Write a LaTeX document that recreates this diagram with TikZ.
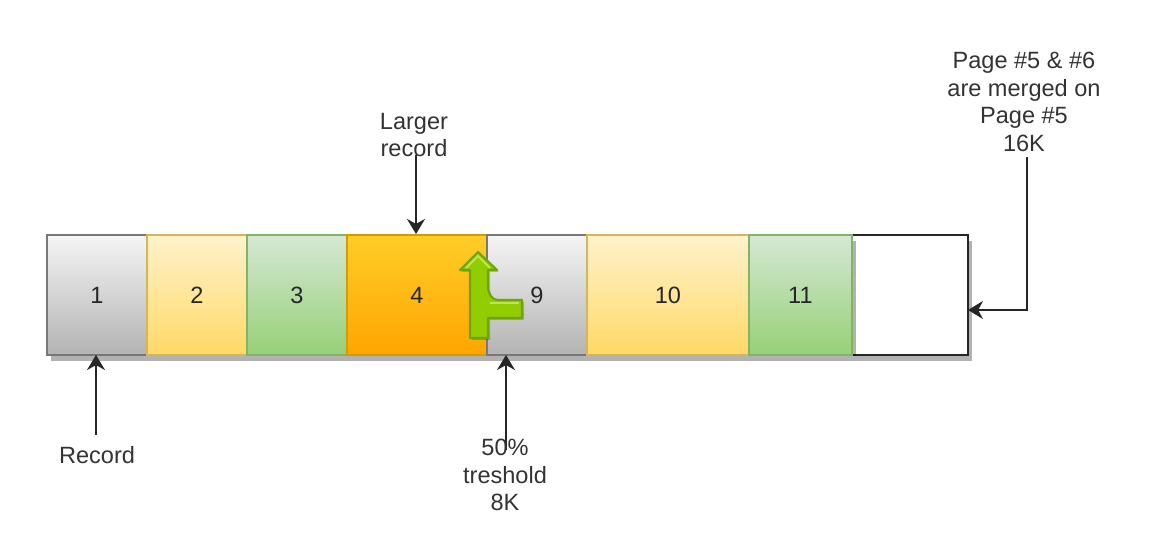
\documentclass[tikz,border=0pt]{standalone}
\usepackage{fontspec}
\setmainfont{Liberation Sans}
\usepackage{tikz}
\usetikzlibrary{arrows.meta,shadows}
\definecolor{pggray}{RGB}{120,120,120}
\definecolor{pgyellow}{RGB}{214,182,86}
\definecolor{pggreen}{RGB}{130,179,102}
\definecolor{pgorange}{RGB}{215,155,0}
\definecolor{graytop}{RGB}{245,245,245}
\definecolor{graybot}{RGB}{179,179,179}
\definecolor{yellowtop}{RGB}{255,242,204}
\definecolor{yellowbot}{RGB}{255,217,102}
\definecolor{greentop}{RGB}{213,232,212}
\definecolor{greenbot}{RGB}{151,208,119}
\definecolor{orangetop}{RGB}{255,205,40}
\definecolor{orangebot}{RGB}{255,165,0}
\definecolor{tipgreen}{RGB}{145,205,0}
\definecolor{tipedge}{RGB}{110,165,10}
\definecolor{tiplight}{RGB}{190,228,80}

\begin{document}
\begin{tikzpicture}[
  x=0.02cm, y=-0.02cm,
  font=\fontsize{13.4pt}{15.6pt}\selectfont,
  slot/.style={draw, rectangle, minimum height=2.4cm, inner sep=0pt, line width=1pt, anchor=north west,
    text=black!85, text height=9.5pt, text depth=0pt,
    drop shadow={shadow xshift=0.08cm, shadow yshift=-0.12cm, fill=black, opacity=0.3}},
  graybox/.style={slot, draw=pggray, top color=graytop, bottom color=graybot},
  yellowbox/.style={slot, draw=pgyellow, top color=yellowtop, bottom color=yellowbot},
  greenbox/.style={slot, draw=pggreen, top color=greentop, bottom color=greenbot},
  orangebox/.style={slot, draw=pgorange, top color=orangetop, bottom color=orangebot},
  emptybox/.style={slot, draw=black!85, fill=white, line width=1.1pt},
  lbl/.style={align=center, text=black!80, inner sep=0pt},
  >={Stealth[length=3mm,width=3.6mm]},
  arrline/.style={->, line width=1.1pt, black!85},
]
\useasboundingbox (0,0) rectangle (1157,543);
% page slots, the empty one goes under its neighbour's shadow
\node[emptybox, minimum width=2.32cm] (slotE) at (851,234) {};
\node[graybox, minimum width=2cm] (slotA) at (46,234) {1};
\node[yellowbox, minimum width=2cm] (slotB) at (146,234) {2};
\node[greenbox, minimum width=2cm] (slotC) at (246,234) {3};
\node[orangebox, minimum width=2.8cm] (slotD) at (346,234) {4};
\node[graybox, minimum width=2cm] (slotF) at (486,234) {9};
\node[yellowbox, minimum width=3.24cm] (slotG) at (586,234) {10};
\node[greenbox, minimum width=2.06cm] (slotH) at (748,234) {11};
% green split arrow
\fill[black, opacity=0.2] (472,340) -- (472,272) -- (462,272) -- (480,254) -- (499,272) -- (490,272) -- (490,288)
  .. controls (490,296) and (494,302) .. (500,302) -- (524,302) -- (524,320) -- (490,320) -- (490,340) -- cycle;
\filldraw[draw=tipedge, fill=tipgreen, line width=1.2pt, line join=round] (470,338) -- (470,270) -- (460,270) -- (478,252) -- (497,270) -- (488,270) -- (488,286)
  .. controls (488,294) and (492,300) .. (498,300) -- (522,300) -- (522,318) -- (488,318) -- (488,338) -- cycle;
\draw[tiplight, line width=1.2pt] (466,268) -- (478,256) -- (490,268);
\draw[tiplight, line width=1.2pt] (490,303) -- (519,303);
% connectors
\coordinate (largerEnd) at (416,155);
\coordinate (recEnd) at (96,435);
\coordinate (halfEnd) at (506,450);
\coordinate (mergedEnd) at (1027,157);
\coordinate (mergedTip) at (968,310);
\coordinate (largerTip) at (416,234);
\coordinate (recTip) at (96,355);
\coordinate (halfTip) at (506,355);
\draw[arrline] (largerEnd) -- (largerTip);
\draw[arrline] (recEnd) -- (recTip);
\draw[arrline] (halfEnd) -- (halfTip);
\draw[arrline] (mergedEnd) |- (mergedTip);
% labels
\node[lbl] (larger) at (414,135) {Larger\\record};
\node[lbl] (rec) at (97,455) {Record};
\node[lbl] (half) at (505,475) {50\%\\treshold\\8K};
\node[lbl] (merged) at (1024,102) {Page \#5 \& \#6\\are merged on\\Page \#5\\16K};
\end{tikzpicture}
\end{document}
